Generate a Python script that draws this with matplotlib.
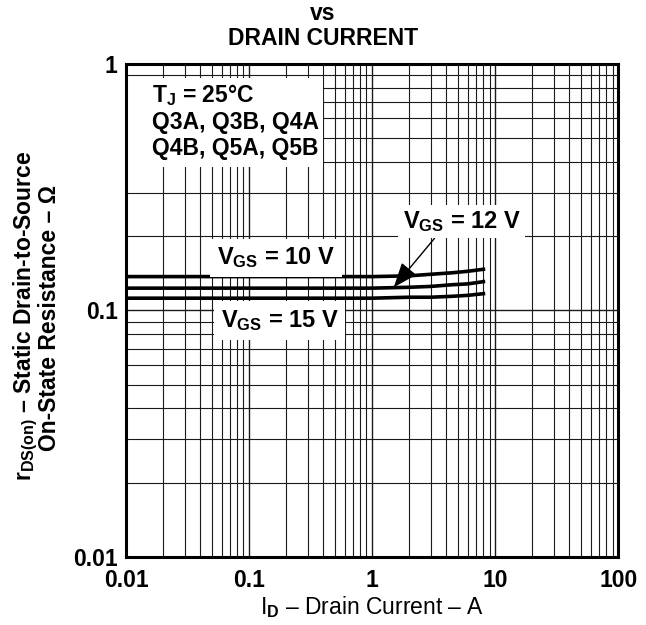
import matplotlib
matplotlib.use("Agg")
import matplotlib.pyplot as plt
from matplotlib.patches import Rectangle

plt.rcParams['font.family'] = ['Liberation Sans', 'DejaVu Sans']
plt.rcParams['font.weight'] = 'bold'
plt.rcParams['mathtext.fontset'] = 'custom'
plt.rcParams['mathtext.rm'] = 'Liberation Sans:bold'
plt.rcParams['mathtext.it'] = 'Liberation Sans:bold'
plt.rcParams['mathtext.bf'] = 'Liberation Sans:bold'

# drain current (A) and on-state resistance (ohm)
i_d = [0.01, 0.1, 1.0, 2.0, 3.0, 4.5, 6.0, 8.3]
r_vgs10 = [0.137, 0.137, 0.137, 0.138, 0.140, 0.142, 0.144, 0.147]
r_vgs12 = [0.123, 0.123, 0.123, 0.124, 0.125, 0.127, 0.128, 0.131]
r_vgs15 = [0.112, 0.112, 0.112, 0.113, 0.113, 0.114, 0.115, 0.117]

xticks = [0.01, 0.1, 1, 10, 100]
xticklabels = ['0.01', '0.1', '1', '10', '100']
yticks = [0.01, 0.1, 1]
yticklabels = ['0.01', '0.1', '1']

FS = 16.5

fig = plt.figure(figsize=(6.46, 6.25), dpi=100)
ax = fig.add_axes([0.195, 0.109, 0.762, 0.789])

ax.set_xscale('log')
ax.set_yscale('log')
ax.set_xlim(0.01, 100)
ax.set_ylim(0.01, 1)

ax.grid(True, which='major', color='0.1', linewidth=1.0)
ax.grid(True, which='minor', color='0.1', linewidth=0.8)
ax.set_axisbelow(True)

for r in (r_vgs10, r_vgs12, r_vgs15):
    ax.plot(i_d, r, color='black', linewidth=2.6, solid_capstyle='butt', zorder=3)

ax.set_xticks(xticks)
ax.set_xticklabels(xticklabels)
ax.set_yticks(yticks)
ax.set_yticklabels(yticklabels)
ax.tick_params(which='both', length=0, labelsize=FS)
ax.tick_params(axis='x', pad=9)
ax.tick_params(axis='y', pad=6)
for s in ax.spines.values():
    s.set_linewidth(2.2)

# info box
ax.add_patch(Rectangle((0.003, 0.79), 0.397, 0.182, transform=ax.transAxes,
                       facecolor='white', edgecolor='none', zorder=2))
info = [r'T$_{\rm J}$ = 25°C', 'Q3A, Q3B, Q4A', 'Q4B, Q5A, Q5B']
for t, yy in zip(info, [0.937, 0.880, 0.828]):
    ax.text(0.053, yy, t, transform=ax.transAxes, fontsize=FS,
            va='center', ha='left', zorder=4)

box = dict(facecolor='white', edgecolor='none', pad=5)
ax.text(0.305, 0.606, r'V$_{\rm GS}$ = 10 V', transform=ax.transAxes,
        fontsize=17, ha='center', va='center', bbox=box, zorder=4)
ax.text(0.312, 0.479, r'V$_{\rm GS}$ = 15 V', transform=ax.transAxes,
        fontsize=17, ha='center', va='center', bbox=box, zorder=4)
ax.annotate(r'V$_{\rm GS}$ = 12 V', xy=(1.5, 0.124), xycoords='data',
            xytext=(0.682, 0.680), textcoords='axes fraction',
            fontsize=17, ha='center', va='center',
            bbox=dict(facecolor='white', edgecolor='none', pad=3),
            arrowprops=dict(arrowstyle='-|>,head_length=0.9,head_width=0.35',
                            color='black', lw=1.0,
                            shrinkA=0, shrinkB=0, relpos=(0.3, 0.0)),
            zorder=4)

ax.set_xlabel(r'I$_{\rm D}$ – Drain Current – A', fontsize=FS, labelpad=1)

fig.text(0.040, 0.494, r'r$_{\rm DS(on)}$ – Static Drain-to-Source',
         rotation=90, fontsize=FS, ha='center', va='center')
fig.text(0.077, 0.491, 'On-State Resistance – Ω',
         rotation=90, fontsize=FS, ha='center', va='center')

fig.text(0.5, 0.978, 'vs', fontsize=FS, ha='center', va='center')
fig.text(0.5, 0.938, 'DRAIN CURRENT', fontsize=FS, ha='center', va='center')

fig.savefig('out.png', dpi=100)
